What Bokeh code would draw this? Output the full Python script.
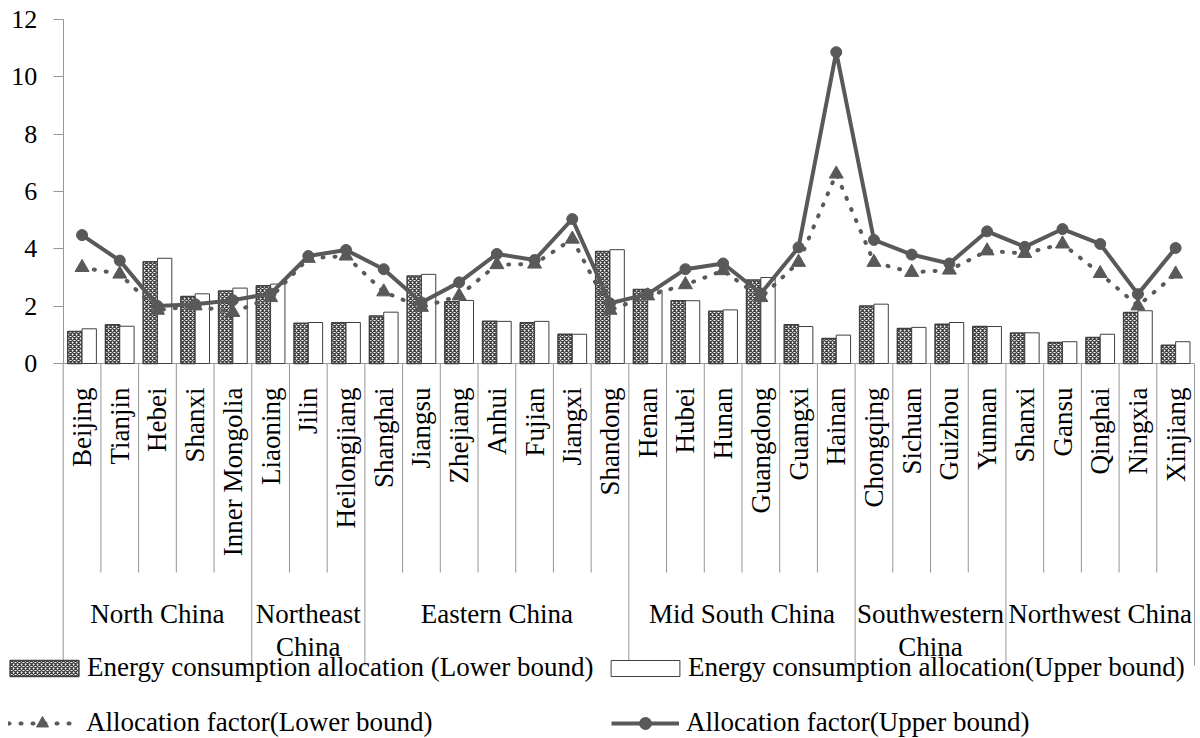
from math import pi

from bokeh.plotting import figure
from bokeh.models import (Range1d, FixedTicker, Legend, LegendItem,
                          ColumnDataSource)
from bokeh.transform import dodge
from bokeh.core.properties import value
from bokeh.embed import file_html
from bokeh.resources import INLINE

# ---------------- data ----------------
provinces = ["Beijing", "Tianjin", "Hebei", "Shanxi", "Inner Mongolia",
             "Liaoning", "Jilin", "Heilongjiang",
             "Shanghai", "Jiangsu", "Zhejiang", "Anhui", "Fujian", "Jiangxi", "Shandong",
             "Henan", "Hubei", "Hunan", "Guangdong", "Guangxi", "Hainan",
             "Chongqing", "Sichuan", "Guizhou", "Yunnan",
             "Shanxi", "Gansu", "Qinghai", "Ningxia", "Xinjiang"]
regions = (["North China"] * 5 + ["Northeast China"] * 3 + ["Eastern China"] * 7 +
           ["Mid South China"] * 6 + ["Southwestern China"] * 4 + ["Northwest China"] * 5)
region_names = ["North China", "Northeast China", "Eastern China",
                "Mid South China", "Southwestern China", "Northwest China"]
region_labels = ["North China", "Northeast\nChina", "Eastern China",
                 "Mid South China", "Southwestern\nChina", "Northwest China"]

energy_lower = [1.12, 1.35, 3.55, 2.34, 2.53, 2.71, 1.40, 1.42, 1.66, 3.05,
                2.15, 1.47, 1.42, 1.02, 3.91, 2.58, 2.19, 1.82, 2.91, 1.35,
                0.87, 2.01, 1.22, 1.37, 1.29, 1.06, 0.73, 0.91, 1.78, 0.64]
energy_upper = [1.21, 1.30, 3.67, 2.43, 2.63, 2.77, 1.43, 1.43, 1.79, 3.11,
                2.20, 1.47, 1.47, 1.02, 3.97, 2.56, 2.19, 1.87, 3.00, 1.29,
                0.99, 2.07, 1.26, 1.43, 1.29, 1.07, 0.76, 1.02, 1.84, 0.76]
factor_lower = [3.35, 3.12, 1.86, 2.01, 1.78, 2.30, 3.67, 3.75, 2.50, 1.96,
                2.36, 3.45, 3.47, 4.34, 1.86, 2.36, 2.75, 3.24, 2.30, 3.53,
                6.61, 3.53, 3.18, 3.26, 3.93, 3.84, 4.17, 3.14, 2.01, 3.12]
factor_upper = [4.48, 3.59, 2.01, 2.07, 2.21, 2.44, 3.75, 3.96, 3.29, 2.13,
                2.83, 3.82, 3.61, 5.04, 2.10, 2.42, 3.29, 3.49, 2.44, 4.05,
                10.86, 4.31, 3.80, 3.49, 4.61, 4.07, 4.69, 4.17, 2.42, 4.03]
y_ticks = [0, 2, 4, 6, 8, 10, 12]

legend_labels = ["Energy consumption allocation (Lower bound)",
                 "Energy consumption allocation(Upper bound)",
                 "Allocation factor(Lower bound)",
                 "Allocation factor(Upper bound)"]

# ---------------- layout ----------------
FONT = "Liberation Serif"
W, H = 1200, 738
N = len(provinces)
X0_PX, XN_PX = 62.7, 1194.0          # canvas x of first / last category edge
CAT_PX = (XN_PX - X0_PX) / N
Y_MAX = 12
TOP_PX, ZERO_PX = 19.0, 363.0        # canvas y of 12 and of 0
PPU = (ZERO_PX - TOP_PX) / Y_MAX


def below(px):
    """data y for a point px pixels under the zero line"""
    return -px / PPU


GRAY = "#595959"
AXIS = "#969696"

p = figure(width=W, height=H,
           x_range=Range1d(-X0_PX / CAT_PX, (W - X0_PX) / CAT_PX),
           y_range=Range1d(below(H - ZERO_PX), Y_MAX + TOP_PX / PPU),
           x_axis_location=None, output_backend="svg", toolbar_location=None,
           min_border_left=0, min_border_right=0,
           min_border_top=0, min_border_bottom=0)
p.outline_line_color = None
p.grid.visible = False
p.background_fill_color = "white"
p.border_fill_color = "white"

ax = p.yaxis[0]
ax.fixed_location = 0
ax.bounds = (0, Y_MAX)
ax.ticker = FixedTicker(ticks=y_ticks, minor_ticks=[])
ax.major_tick_out = 10
ax.major_tick_in = 0
ax.minor_tick_out = 0
ax.minor_tick_in = 0
ax.axis_line_color = AXIS
ax.major_tick_line_color = AXIS
ax.major_label_standoff = 16
ax.major_label_text_font = FONT
ax.major_label_text_font_size = "26px"
ax.major_label_text_color = "black"

xs = [i + 0.5 for i in range(N)]
src = ColumnDataSource(dict(x=xs, lo=energy_lower, up=energy_upper,
                            fl=factor_lower, fu=factor_upper, name=provinces))

# zero line
p.segment(x0=[0], y0=[0], x1=[N], y1=[0], line_color=AXIS, line_width=1)

# separators between categories (short) and regions (long)
short_x, long_x = [], []
for i in range(N):
    if i == 0 or regions[i] != regions[i - 1]:
        long_x.append(i)
    else:
        short_x.append(i)
long_x.append(N)
p.segment(x0=short_x, y0=[0] * len(short_x), x1=short_x,
          y1=[below(209)] * len(short_x), line_color=AXIS, line_width=1)
p.segment(x0=long_x, y0=[0] * len(long_x), x1=long_x,
          y1=[below(302)] * len(long_x), line_color=AXIS, line_width=1)

# bars
r_lo = p.vbar(x=dodge("x", -0.19, range=p.x_range), top="lo", width=0.38, source=src,
              fill_color="#f2f2f2", hatch_pattern="diagonal_cross",
              hatch_color="#404040", hatch_scale=4, hatch_weight=1.3,
              line_color="#404040", line_width=1.5)
r_up = p.vbar(x=dodge("x", 0.19, range=p.x_range), top="up", width=0.38, source=src,
              fill_color="white", line_color="#404040", line_width=1)

# lines
r_fl_line = p.line(x="x", y="fl", source=src, line_color=GRAY, line_width=4,
                   line_dash="1 11", line_cap="round")
r_fl_mark = p.scatter(x="x", y="fl", source=src, marker="triangle", size=14,
                      fill_color=GRAY, line_color=GRAY)
r_fu_line = p.line(x="x", y="fu", source=src, line_color=GRAY, line_width=4)
r_fu_mark = p.scatter(x="x", y="fu", source=src, marker="circle", size=11,
                      fill_color=GRAY, line_color=GRAY)

# category labels
p.text(x="x", y=below(24), text="name", source=src, angle=pi / 2,
       text_align="right", text_baseline="middle",
       text_font=value(FONT), text_font_size=value("27px"), text_color="black")

starts = [regions.index(r) for r in region_names]
ends = [len(regions) - regions[::-1].index(r) for r in region_names]
centers = [(s + e) / 2 for s, e in zip(starts, ends)]
p.text(x=centers, y=[below(235)] * len(centers), text=region_labels,
       text_align="center", text_baseline="top", text_line_height=1.1,
       text_font=value(FONT), text_font_size=value("27px"), text_color="black")

# legend: two rows x two columns
common = dict(orientation="vertical", label_height=30, padding=0, margin=0,
              border_line_color=None, background_fill_alpha=0,
              label_text_font=FONT, label_text_font_size="27px",
              label_text_color="black")
bar_opts = dict(glyph_width=86, glyph_height=20, label_standoff=0, **common)
line_opts = dict(glyph_width=68, glyph_height=30, **common)
legends = [
    Legend(items=[LegendItem(label=legend_labels[0], renderers=[r_lo])],
           location=(1, 55), **bar_opts),
    Legend(items=[LegendItem(label=legend_labels[1], renderers=[r_up])],
           location=(602, 55), **bar_opts),
    Legend(items=[LegendItem(label=legend_labels[2], renderers=[r_fl_line, r_fl_mark])],
           location=(8, 0), label_standoff=10, **line_opts),
    Legend(items=[LegendItem(label=legend_labels[3], renderers=[r_fu_line, r_fu_mark])],
           location=(611, 0), label_standoff=7, **line_opts),
]
for lg in legends:
    p.add_layout(lg)

open("out.html", "w").write(file_html(p, INLINE))
